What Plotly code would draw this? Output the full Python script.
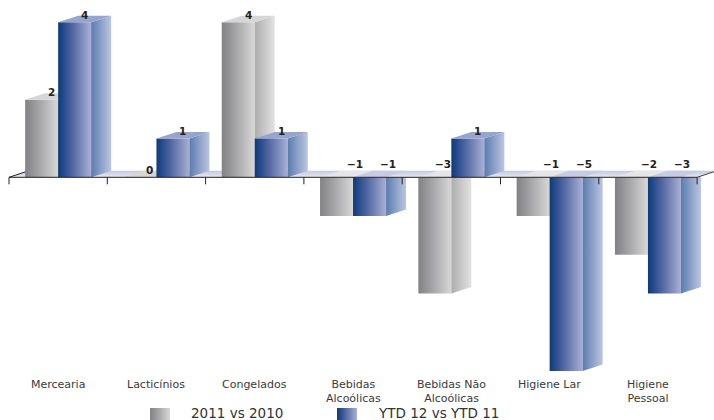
import plotly.graph_objects as go

# ---- data -----------------------------------------------------------------
categories = ["Mercearia", "Lacticínios", "Congelados", "Bebidas<br>Alcoólicas",
              "Bebidas Não<br>Alcoólicas", "Higiene Lar", "Higiene<br>Pessoal"]
series_names = ["2011 vs 2010", "YTD 12 vs YTD 11"]
values_2011 = [2, 0, 4, -1, -3, -1, -2]
values_ytd12 = [4, 1, 1, -1, 1, -5, -3]
series_values = [values_2011, values_ytd12]

# ---- geometry (canvas pixels -> axis units) --------------------------------
W, H = 714, 420
PX_CAT = 98.3        # pixels per category slot
X0_PX = 9            # left edge of the first slot
PX_UNIT = 38.75      # pixels per value unit
ZERO_PX = 177.3      # vertical pixel of the zero line

BAR_W = 33 / PX_CAT  # bar width in category units
DX = 20 / PX_CAT     # 3D depth offset (horizontal)
DY = 6.6 / PX_UNIT   # 3D depth offset (vertical)
TICK = 7 / PX_UNIT

n = len(categories)
x_range = [-X0_PX / PX_CAT, (W - X0_PX) / PX_CAT]
y_range = [-(H - ZERO_PX) / PX_UNIT, ZERO_PX / PX_UNIT]

# ---- styles -----------------------------------------------------------------
styles = [
    dict(front=[[0, "#828284"], [0.5, "#ababad"], [1, "#d8d8d8"]],
         side=[[0, "#adadad"], [1, "#e2e2e2"]],
         top="#d6d6d6", top_neg="#e6e6e8"),
    dict(front=[[0, "#0b3a7c"], [0.45, "#5569a3"], [1, "#a9b0d4"]],
         side=[[0, "#5b7caf"], [1, "#bcc5e0"]],
         top="#97a5ce", top_neg="#c6cce3"),
]

fig = go.Figure()


def face(xs, ys, grad=None, color=None):
    kw = dict(x=xs + [xs[0]], y=ys + [ys[0]], fill="toself", mode="lines",
              line=dict(width=0), hoverinfo="skip", showlegend=False)
    if grad is not None:
        kw["fillgradient"] = dict(type="horizontal", colorscale=grad)
    else:
        kw["fillcolor"] = color
    fig.add_trace(go.Scatter(**kw))


def bar_x(i, s):
    xl = i + 0.5 - BAR_W + s * BAR_W
    return xl, xl + BAR_W


def front_and_side(i, s, v):
    xl, xr = bar_x(i, s)
    st = styles[s]
    face([xl, xr, xr, xl], [0, 0, v, v], grad=st["front"])
    face([xr, xr + DX, xr + DX, xr], [0, DY, v + DY, v], grad=st["side"])


def top(i, s, v, color):
    xl, xr = bar_x(i, s)
    face([xl, xr, xr + DX, xl + DX], [v, v, v + DY, v + DY], color=color)


# negative bars hang below the floor
for i in range(n):
    for s in range(2):
        v = series_values[s][i]
        if v < 0:
            front_and_side(i, s, v)

# floor plane at zero
fig.add_trace(go.Scatter(
    x=[0, n, n + DX, DX, 0], y=[0, 0, DY, DY, 0], fill="toself", mode="lines",
    line=dict(width=0), hoverinfo="skip", showlegend=False,
    fillgradient=dict(type="vertical",
                      colorscale=[[0, "#e8e9f0"], [1, "#c4c9dc"]])))
# left edge of the floor
fig.add_trace(go.Scatter(x=[0, DX], y=[0, DY], mode="lines",
                         line=dict(color="#222222", width=1),
                         hoverinfo="skip", showlegend=False))

# tops of negative / zero bars lie in the floor
for i in range(n):
    for s in range(2):
        v = series_values[s][i]
        if v < 0:
            top(i, s, 0, styles[s]["top_neg"])
        elif v == 0:
            top(i, s, 0, styles[s]["top"])

# positive bars stand on the floor
for i in range(n):
    for s in range(2):
        v = series_values[s][i]
        if v > 0:
            front_and_side(i, s, v)
            top(i, s, v, styles[s]["top"])

# axis line, right floor edge and category ticks
shapes = [
    dict(type="line", xref="x", yref="y", x0=0, y0=0, x1=n, y1=0,
         line=dict(color="#222222", width=1), layer="above"),
    dict(type="line", xref="x", yref="y", x0=n, y0=0, x1=n + DX, y1=DY,
         line=dict(color="#444444", width=1), layer="above"),
]
for k in range(n + 1):
    shapes.append(dict(type="line", xref="x", yref="y", x0=k, x1=k, y0=0,
                       y1=-TICK, line=dict(color="#222222", width=1),
                       layer="above"))

annotations = []
label_font = dict(family="DejaVu Sans", size=10.5, color="#222222")
for i in range(n):
    for s in range(2):
        v = series_values[s][i]
        xl, xr = bar_x(i, s)
        txt = str(v).replace("-", "\u2212")
        if v >= 0:
            annotations.append(dict(
                x=xl + BAR_W / 2 + DX / 2, y=v + DY, xref="x", yref="y",
                text=f"<b>{txt}</b>", showarrow=False, yanchor="middle",
                yshift=1, font=label_font))
        else:
            nxt_pos = s == 0 and series_values[1][i] > 0
            off = 0.4 * DX if nxt_pos else 0.9 * DX
            annotations.append(dict(
                x=xl + BAR_W / 2 + off, y=DY, xref="x", yref="y",
                text=f"<b>{txt}</b>", showarrow=False, yanchor="middle",
                yshift=7, font=label_font))

# category labels
cat_font = dict(family="DejaVu Sans", size=11, color="#3a3a3a")
for i, name in enumerate(categories):
    annotations.append(dict(
        x=i + 0.5, xref="x", y=1 - 376 / H, yref="paper", text=name,
        showarrow=False, yanchor="top", font=cat_font))

# legend keys drawn on a pixel-space overlay axis
legend_keys = [(150, 170), (337, 357)]
legend_text_x = [189, 376]
for s in range(2):
    x0, x1 = legend_keys[s]
    fig.add_trace(go.Scatter(
        x=[x0, x1, x1, x0, x0], y=[408, 408, 422, 422, 408], xaxis="x2",
        yaxis="y2", fill="toself", mode="lines", line=dict(width=0),
        fillgradient=dict(type="horizontal", colorscale=styles[s]["front"]),
        hoverinfo="skip", showlegend=False))
    annotations.append(dict(
        x=legend_text_x[s] / W, xref="paper", y=1 - 413 / H, yref="paper",
        text=series_names[s], showarrow=False, xanchor="left",
        yanchor="middle",
        font=dict(family="DejaVu Sans", size=13.5, color="#333333")))

fig.update_layout(
    width=W, height=H, autosize=False,
    margin=dict(l=0, r=0, t=0, b=0, pad=0),
    paper_bgcolor="white", plot_bgcolor="white",
    xaxis=dict(range=x_range, visible=False, fixedrange=True),
    yaxis=dict(range=y_range, visible=False, fixedrange=True),
    xaxis2=dict(range=[0, W], visible=False, overlaying="x",
                fixedrange=True),
    yaxis2=dict(range=[H, 0], visible=False, overlaying="y",
                fixedrange=True),
    shapes=shapes, annotations=annotations, showlegend=False,
)

fig.write_html("out.html")
